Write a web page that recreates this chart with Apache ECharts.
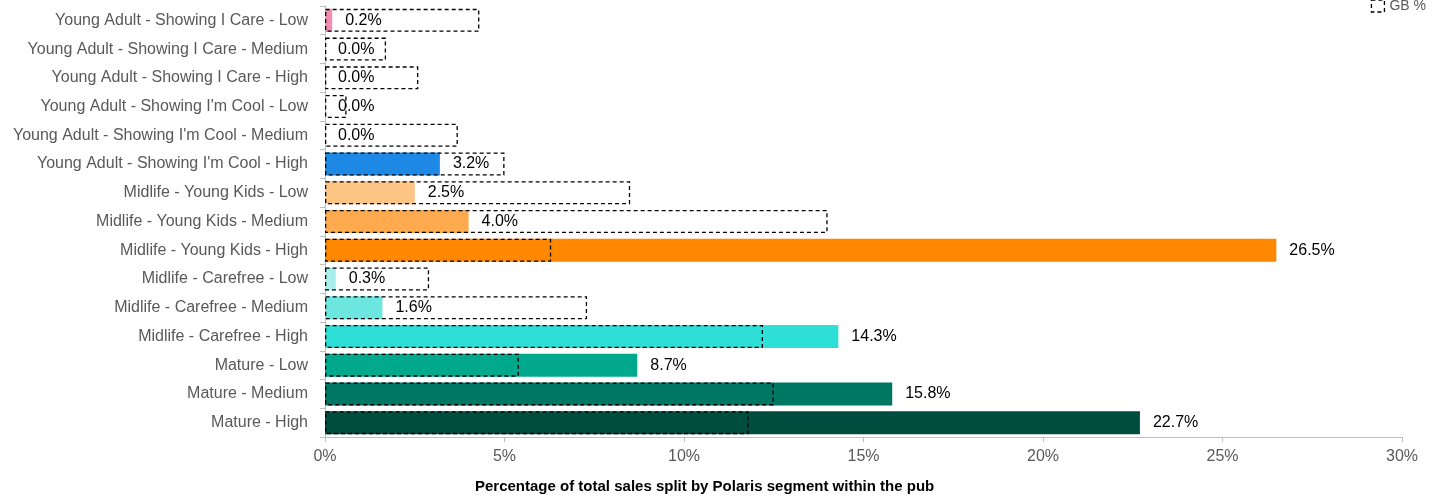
<!DOCTYPE html>
<html>
<head>
<meta charset="utf-8">
<style>
  html, body { margin: 0; padding: 0; background: #fff; }
  #chart { width: 1437px; height: 500px; }
</style>
<script src="https://cdn.jsdelivr.net/npm/echarts@6/dist/echarts.min.js"></script>
</head>
<body>
<div id="chart"></div>
<script>
// Polaris segments, top to bottom
const categories = [
  "Young Adult - Showing I Care - Low",
  "Young Adult - Showing I Care - Medium",
  "Young Adult - Showing I Care - High",
  "Young Adult - Showing I'm Cool - Low",
  "Young Adult - Showing I'm Cool - Medium",
  "Young Adult - Showing I'm Cool - High",
  "Midlife - Young Kids - Low",
  "Midlife - Young Kids - Medium",
  "Midlife - Young Kids - High",
  "Midlife - Carefree - Low",
  "Midlife - Carefree - Medium",
  "Midlife - Carefree - High",
  "Mature - Low",
  "Mature - Medium",
  "Mature - High"
];

// Share of pub sales per segment (%)
const pubValues = [0.2, 0.0, 0.0, 0.0, 0.0, 3.2, 2.5, 4.0, 26.5, 0.3, 1.6, 14.3, 8.7, 15.8, 22.7];

// GB benchmark share per segment (%)
const gbValues = [4.3, 1.7, 2.6, 0.6, 3.7, 5.0, 8.5, 14.0, 6.3, 2.9, 7.3, 12.2, 5.4, 12.5, 11.8];

// Segment colours
const segmentColors = [
  "#f28cb1", "#f28cb1", "#f28cb1",
  "#1e88e5", "#1e88e5", "#1e88e5",
  "#ffc585", "#ffaa4f", "#ff8800",
  "#a8efec", "#6de6df", "#2ddfd6",
  "#00a98b", "#007763", "#004d40"
];

const xTicks = [0, 5, 10, 15, 20, 25, 30];

const font = "'Liberation Sans', Arial, sans-serif";

const chart = echarts.init(document.getElementById('chart'));
chart.setOption({
  animation: false,
  textStyle: { fontFamily: font },
  grid: { left: 325, right: 35, top: 6, bottom: 63 },
  title: {
    text: 'Percentage of total sales split by Polaris segment within the pub',
    left: 470, top: 474,
    textStyle: { fontSize: 15, fontWeight: 'bold', color: '#000', fontFamily: font }
  },
  legend: {
    data: [{ name: 'GB %', icon: 'rect' }],
    right: 6, top: -6,
    itemWidth: 13, itemHeight: 12,
    itemGap: 4,
    itemStyle: { color: 'rgba(0,0,0,0)', borderColor: '#000', borderWidth: 1.3, borderType: [4, 3] },
    textStyle: { fontSize: 14, color: '#595959', fontFamily: font }
  },
  xAxis: {
    type: 'value',
    min: xTicks[0], max: xTicks[xTicks.length - 1], interval: 5,
    axisLine: { show: true, lineStyle: { color: '#bfbfbf' } },
    axisTick: { show: true, length: 5, lineStyle: { color: '#bfbfbf' } },
    splitLine: { show: false },
    axisLabel: { formatter: v => v + '%', fontSize: 16, color: '#595959', margin: 12 }
  },
  yAxis: {
    type: 'category',
    inverse: true,
    data: categories,
    axisLine: { show: true, lineStyle: { color: '#bfbfbf' } },
    axisTick: { show: true, length: 5, lineStyle: { color: '#bfbfbf' } },
    axisLabel: { fontSize: 16, color: '#595959', margin: 17 }
  },
  series: [
    {
      name: 'Pub %',
      type: 'bar',
      barCategoryGap: '20%',
      data: pubValues.map((v, i) => ({ value: v, itemStyle: { color: segmentColors[i] } })),
      label: {
        show: true, position: 'right', distance: 13,
        formatter: p => p.value.toFixed(1) + '%',
        fontSize: 16, color: '#000', fontFamily: font
      },
      z: 2
    },
    {
      name: 'GB %',
      type: 'bar',
      barGap: '-100%',
      barCategoryGap: '20%',
      data: gbValues,
      itemStyle: {
        color: 'rgba(0,0,0,0)',
        borderColor: '#000',
        borderWidth: 1.3,
        borderType: [4, 3]
      },
      z: 3
    }
  ]
});
</script>
</body>
</html>
